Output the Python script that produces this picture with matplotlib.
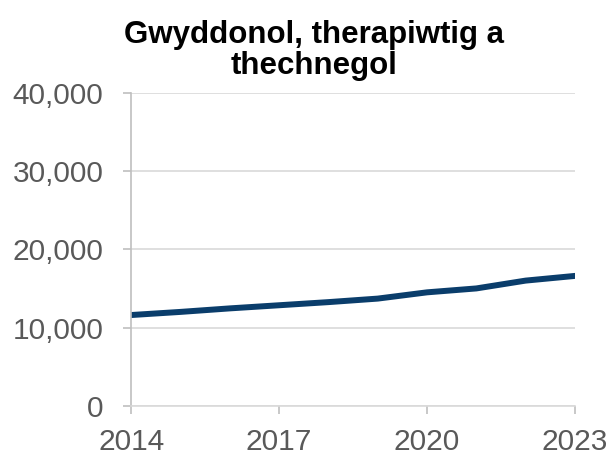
import numpy as np
import matplotlib.pyplot as plt
from matplotlib.ticker import FuncFormatter

plt.rcParams['font.family'] = ['Liberation Sans', 'DejaVu Sans']

years = [2014, 2015, 2016, 2017, 2018, 2019, 2020, 2021, 2022, 2023]
values = [11600, 12000, 12450, 12850, 13250, 13700, 14500, 15000, 16000, 16600]
xticks = [2014, 2017, 2020, 2023]
yticks = [0, 10000, 20000, 30000, 40000]

fig = plt.figure(figsize=(6.13, 4.57), dpi=100)
ax = fig.add_axes([0.214, 0.112, 0.724, 0.685])

ax.plot(years, values, color='#0a3d6b', linewidth=4.3, solid_capstyle='round')

ax.set_xlim(2014, 2023)
ax.set_ylim(0, 40000)
ax.set_xticks(xticks)
ax.set_yticks(yticks)
ax.yaxis.set_major_formatter(FuncFormatter(lambda v, p: f'{int(v):,}'))

ax.grid(axis='y', color='#d9d9d9', linewidth=1.2)
ax.set_axisbelow(True)
for s in ['top', 'right']:
    ax.spines[s].set_visible(False)
ax.spines['left'].set_color('#bfbfbf')
ax.spines['bottom'].set_color('#d9d9d9')
ax.spines['left'].set_linewidth(1.2)
ax.spines['bottom'].set_linewidth(1.2)
ax.tick_params(axis='both', colors='#bfbfbf', labelcolor='#595959', labelsize=21.5, length=6, width=1.2)
ax.tick_params(axis='x', pad=10)
ax.tick_params(axis='y', pad=14)

fig.text(0.512, 0.957, 'Gwyddonol, therapiwtig a\nthechnegol', ha='center', va='top',
         fontsize=22.5, fontweight='bold', linespacing=1.07)

fig.savefig('out.png', dpi=100)
